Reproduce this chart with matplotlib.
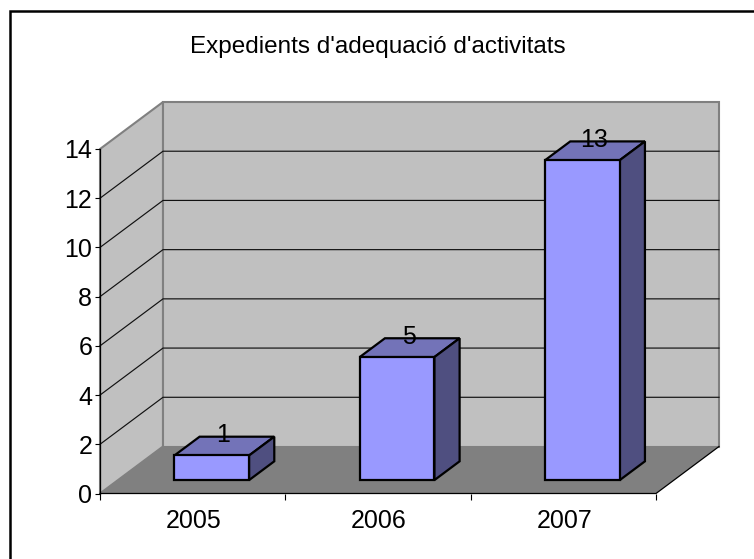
import matplotlib
matplotlib.use("Agg")
import matplotlib.pyplot as plt
from matplotlib.lines import Line2D
from matplotlib.patches import Polygon

plt.rcParams['font.family'] = ['Liberation Sans', 'DejaVu Sans']

TITLE = "Expedients d'adequació d'activitats"
categories = ['2005', '2006', '2007']
values = [1, 5, 13]
y_ticks = [0, 2, 4, 6, 8, 10, 12, 14]

W, H = 754, 559
fig = plt.figure(figsize=(W / 100, H / 100), dpi=100, facecolor='white')

# outer frame: only the left and top edges fall inside the picture
fig.add_artist(Line2D([9.7 / W, 9.7 / W, 1.01], [-0.01, 1 - 11.3 / H, 1 - 11.3 / H], transform=fig.transFigure,
                      color='black', lw=1.8, solid_joinstyle='miter'))
fig.text(377.5 / W, 1 - 46.5 / H, TITLE, ha='center', va='center', fontsize=17.45, color='black')

# front plane of the pseudo-3D plot
L, R, T, B = 100, 656, 149, 493.5
ax = fig.add_axes([L / W, 1 - B / H, (R - L) / W, (B - T) / H])
ax.set_xlim(0, len(categories))
ax.set_ylim(0, y_ticks[-1])
ax.patch.set_visible(False)
for s in ax.spines.values():
    s.set_visible(False)

DX = 63 / (R - L) * len(categories)          # depth shift in category units
DY = 47 / (B - T) * y_ticks[-1]              # depth shift in value units


def P(x, y, d=0.0):
    return (x + d * DX, y + d * DY)


ymax = y_ticks[-1]
n = len(categories)
WALL, FLOOR, EDGE = '#c0c0c0', '#808080', '#808080'
# side wall, back wall, floor
ax.add_patch(Polygon([P(0, 0), P(0, ymax), P(0, ymax, 1), P(0, 0, 1)], fc=WALL, ec=EDGE, lw=1.5, zorder=1, clip_on=False))
ax.add_patch(Polygon([P(0, 0, 1), P(0, ymax, 1), P(n, ymax, 1), P(n, 0, 1)], fc=WALL, ec=EDGE, lw=1.5, zorder=1, clip_on=False))
ax.add_patch(Polygon([P(0, 0), P(0, 0, 1), P(n, 0, 1), P(n, 0)], fc=FLOOR, ec='none', zorder=1.5, clip_on=False))

# gridlines
for v in y_ticks[1:-1]:
    a, b, c = P(0, v), P(0, v, 1), P(n, v, 1)
    ax.plot([a[0], b[0], c[0]], [a[1], b[1], c[1]], color='#111111', lw=0.85, zorder=2, clip_on=False)

# floor front and right edges, left edge
a, b, c = P(0, 0), P(n, 0), P(n, 0, 1)
ax.plot([a[0], b[0], c[0]], [a[1], b[1], c[1]], color='black', lw=0.9, zorder=2.5, clip_on=False)
ax.plot([0, 0], [0, ymax], color='black', lw=0.9, zorder=2.5, clip_on=False)

# bars
BW, D0, D1 = 0.403, 0.285, 0.685
OFF = 0.006
for i, (cat, v) in enumerate(zip(categories, values)):
    x0 = i + 0.5 - BW / 2 + OFF
    x1 = x0 + BW
    ec = dict(ec='black', lw=1.6, joinstyle='miter', zorder=3 + i, clip_on=False)
    ax.add_patch(Polygon([P(x0, v, D0), P(x1, v, D0), P(x1, v, D1), P(x0, v, D1)], fc='#7373b8', **ec))
    ax.add_patch(Polygon([P(x1, 0, D0), P(x1, v, D0), P(x1, v, D1), P(x1, 0, D1)], fc='#4f4f80', **ec))
    ax.add_patch(Polygon([P(x0, 0, D0), P(x1, 0, D0), P(x1, v, D0), P(x0, v, D0)], fc='#9999ff', **ec))
    lx, ly = P(x0 + BW / 2, v, (D0 + D1) / 2)
    ax.annotate(str(v), xy=(lx, ly), xytext=(-0.8, 2.6), textcoords='offset points', ha='center', va='baseline',
                fontsize=18, color='black', zorder=10, annotation_clip=False)

ax.set_xticks(range(n + 1))
ax.set_xticklabels([''] * (n + 1))
ax.set_yticks(y_ticks)
ax.tick_params(axis='y', length=3.6, width=0.8, pad=2, labelsize=18)
ax.tick_params(axis='x', length=4, width=0.8)
for i, cat in enumerate(categories):
    ax.annotate(cat, xy=(i + 0.5, 0), xytext=(0.8, -20), textcoords='offset points', ha='center', va='center',
                fontsize=18, annotation_clip=False)

fig.savefig('out.png', dpi=100, facecolor='white')
